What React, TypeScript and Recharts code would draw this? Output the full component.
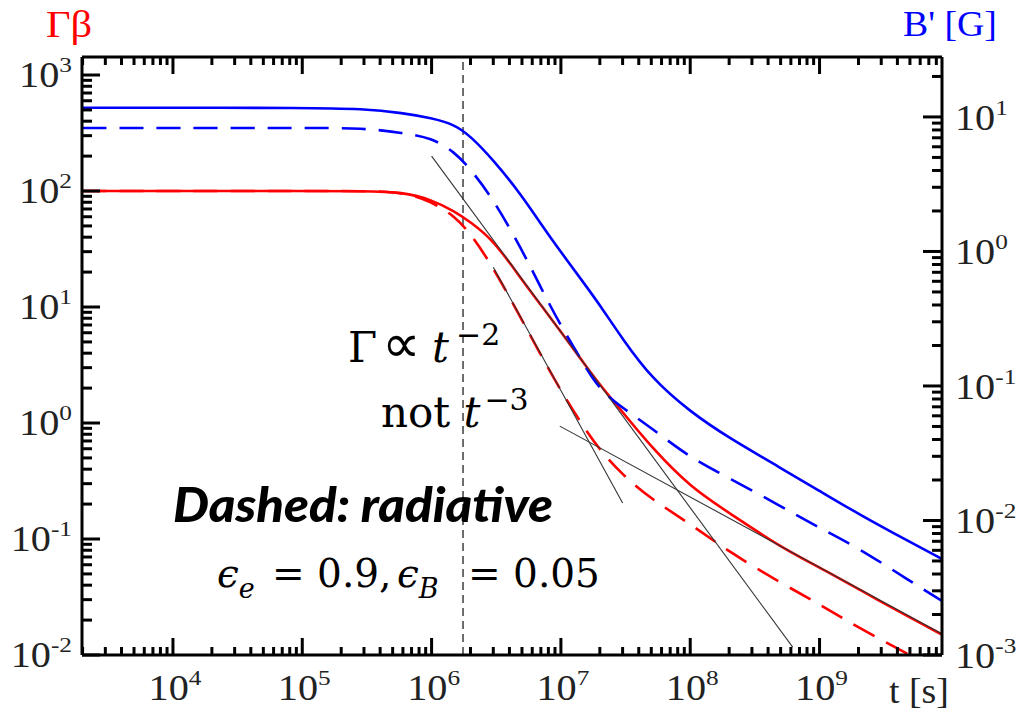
import React from 'react';
import { ComposedChart, Line, XAxis, YAxis, ReferenceLine } from 'recharts';

// time samples (s) shared by the four model curves
const timeGrid = [2e3, 1e4, 1e5, 3e5, 6e5, 1e6, 1.5e6, 2e6, 3e6, 5e6, 7e6, 1e7, 1.5e7, 2e7, 3e7, 5e7, 1e8, 2e8, 5e8, 1e9, 2e9, 5e9, 8.85e9];

// Gamma*beta (left axis)
const gammaBetaAdiabatic = [100, 100, 100, 100, 98, 84, 67, 54, 38, 17.1, 10.4, 6.1, 3.3, 2.13, 1.24, 0.62, 0.28, 0.168, 0.085, 0.057, 0.037, 0.021, 0.015];
const gammaBetaRadiative = [100, 100, 100, 100, 98, 81, 61, 43, 22, 7.7, 3.86, 1.89, 0.92, 0.585, 0.356, 0.221, 0.135, 0.0773, 0.0418, 0.0275, 0.0171, 0.01, 0.0071];

// B' in gauss (right axis)
const fieldAdiabatic = [11.7, 11.7, 11.7, 11.5, 10.7, 9.8, 8.8, 7.2, 4.79, 2.6, 1.6, 0.99, 0.585, 0.4, 0.223, 0.1146, 0.0641, 0.041, 0.0246, 0.0166, 0.01117, 0.00692, 0.00517];
const fieldRadiative = [8.28, 8.28, 8.28, 8.28, 7.6, 7.0, 5.5, 4.1, 2.45, 1.03, 0.536, 0.279, 0.146, 0.0933, 0.0686, 0.0488, 0.0292, 0.0207, 0.0128, 0.0088, 0.00625, 0.00355, 0.00252];

// thin power-law guide lines (left axis)
const guideATime = [1e6, 6.2e8];
const guideAValue = [200, 0.0117];
const guideBTime = [3e6, 3e7];
const guideBValue = [22, 0.204];
const guideCTime = [9.8e6, 8.85e9];
const guideCValue = [0.94, 0.0152];

const decelerationTime = 1.75e6;

const timeDomain = [1980, 8.85e9];
const gammaDomain = [0.01, 1430];
const fieldDomain = [0.001, 27.9];

const timeMajors = [1e4, 1e5, 1e6, 1e7, 1e8, 1e9];
const gammaMajors = [1e-2, 1e-1, 1, 10, 100, 1000];
const fieldMajors = [1e-3, 1e-2, 1e-1, 1, 10];

const W = 1017;
const H = 718;
const LEFT = 82;
const RIGHT = 942;
const TOP = 57;
const BOTTOM = 655;
const STRETCH = 1.15;
const SERIF = 'Liberation Serif';
const MATH = 'DejaVu Serif';

const withMinors = (domain: number[]) => {
  const out: number[] = [];
  const lo = Math.floor(Math.log10(domain[0]));
  const hi = Math.ceil(Math.log10(domain[1]));
  for (let k = lo; k <= hi; k++) {
    for (let m = 1; m <= 9; m++) {
      const v = m * Math.pow(10, k);
      if (v >= domain[0] * 0.999 && v <= domain[1] * 1.001) out.push(v);
    }
  }
  return out;
};

const exponentOf = (v: number) => Math.round(Math.log10(v));
const isMajor = (v: number, majors: number[]) => majors.some((m) => Math.abs(m - v) / m < 1e-6);

const series = (ts: number[], vs: number[]) => ts.map((t, i) => ({ t, v: vs[i] }));

const PowerLabel = ({ x, y, exp, anchor }: { x: number; y: number; exp: number; anchor: string }) => (
  <text
    transform={`translate(${x} ${y}) scale(${STRETCH} 1)`}
    textAnchor={anchor}
    fontFamily={SERIF}
    fontSize={35}
    fill="#222"
  >
    10<tspan dy={-15} fontSize={22}>{exp}</tspan>
  </text>
);

const BottomTick = (props: any) => {
  const { x, payload } = props;
  const major = isMajor(payload.value, timeMajors);
  return (
    <g>
      <line x1={x} x2={x} y1={BOTTOM} y2={BOTTOM - (major ? 17 : 8)} stroke="#000" strokeWidth={3} />
      {major && <PowerLabel x={x + 2} y={700} exp={exponentOf(payload.value)} anchor="middle" />}
    </g>
  );
};

const TopTick = (props: any) => {
  const { x, payload } = props;
  const major = isMajor(payload.value, timeMajors);
  return <line x1={x} x2={x} y1={TOP} y2={TOP + (major ? 17 : 8)} stroke="#000" strokeWidth={3} />;
};

const LeftTick = (props: any) => {
  const { y, payload } = props;
  const major = isMajor(payload.value, gammaMajors);
  return (
    <g>
      <line x1={LEFT} x2={LEFT + (major ? 18 : 10)} y1={y} y2={y} stroke="#000" strokeWidth={3} />
      {major && <PowerLabel x={72} y={y + 12} exp={exponentOf(payload.value)} anchor="end" />}
    </g>
  );
};

const RightTick = (props: any) => {
  const { y, payload } = props;
  const major = isMajor(payload.value, fieldMajors);
  return (
    <g>
      <line x1={RIGHT} x2={RIGHT - (major ? 19 : 10)} y1={y} y2={y} stroke="#000" strokeWidth={3} />
      {major && <PowerLabel x={955} y={y + 13} exp={exponentOf(payload.value)} anchor="start" />}
    </g>
  );
};

export default function App() {
  return (
    <div style={{ position: 'absolute', left: 0, top: 0, width: W, height: H, background: '#fff' }}>
      <ComposedChart
        width={W}
        height={H}
        margin={{ top: TOP - 20, right: W - RIGHT - 60, bottom: H - BOTTOM - 30, left: LEFT - 60 }}
      >
        <XAxis
          xAxisId="b"
          type="number"
          dataKey="t"
          scale="log"
          domain={timeDomain}
          allowDataOverflow
          ticks={withMinors(timeDomain)}
          interval={0}
          height={30}
          tickLine={false}
          axisLine={{ stroke: '#000', strokeWidth: 3 }}
          tick={(p: any) => <BottomTick {...p} />}
        />
        <XAxis
          xAxisId="top"
          orientation="top"
          type="number"
          dataKey="t"
          scale="log"
          domain={timeDomain}
          allowDataOverflow
          ticks={withMinors(timeDomain)}
          interval={0}
          height={20}
          tickLine={false}
          axisLine={{ stroke: '#000', strokeWidth: 3 }}
          tick={(p: any) => <TopTick {...p} />}
        />
        <YAxis
          yAxisId="l"
          type="number"
          scale="log"
          domain={gammaDomain}
          allowDataOverflow
          ticks={withMinors(gammaDomain)}
          interval={0}
          width={60}
          tickLine={false}
          axisLine={{ stroke: '#000', strokeWidth: 3 }}
          tick={(p: any) => <LeftTick {...p} />}
        />
        <YAxis
          yAxisId="r"
          orientation="right"
          type="number"
          scale="log"
          domain={fieldDomain}
          allowDataOverflow
          ticks={withMinors(fieldDomain)}
          interval={0}
          width={60}
          tickLine={false}
          axisLine={{ stroke: '#000', strokeWidth: 3 }}
          tick={(p: any) => <RightTick {...p} />}
        />
        <ReferenceLine xAxisId="b" yAxisId="l" x={decelerationTime} stroke="#222" strokeWidth={1.3} strokeDasharray="8 5" />

        <Line xAxisId="b" yAxisId="l" data={series(timeGrid, gammaBetaAdiabatic)} dataKey="v" type="basis" stroke="#ff0000" strokeWidth={2.6} dot={false} isAnimationActive={false} />
        <Line xAxisId="b" yAxisId="l" data={series(timeGrid, gammaBetaRadiative)} dataKey="v" type="basis" stroke="#ff0000" strokeWidth={2.6} strokeDasharray="24 13" dot={false} isAnimationActive={false} />
        <Line xAxisId="b" yAxisId="r" data={series(timeGrid, fieldAdiabatic)} dataKey="v" type="basis" stroke="#0000ff" strokeWidth={2.6} dot={false} isAnimationActive={false} />
        <Line xAxisId="b" yAxisId="r" data={series(timeGrid, fieldRadiative)} dataKey="v" type="basis" stroke="#0000ff" strokeWidth={2.6} strokeDasharray="24 13" dot={false} isAnimationActive={false} />

        <Line xAxisId="b" yAxisId="l" data={series(guideATime, guideAValue)} dataKey="v" type="linear" stroke="#333" strokeWidth={1.1} dot={false} isAnimationActive={false} />
        <Line xAxisId="b" yAxisId="l" data={series(guideBTime, guideBValue)} dataKey="v" type="linear" stroke="#333" strokeWidth={1.1} dot={false} isAnimationActive={false} />
        <Line xAxisId="b" yAxisId="l" data={series(guideCTime, guideCValue)} dataKey="v" type="linear" stroke="#333" strokeWidth={1.1} dot={false} isAnimationActive={false} />
      </ComposedChart>

      <svg width={W} height={H} style={{ position: 'absolute', left: 0, top: 0, pointerEvents: 'none' }}>
        <text transform={`translate(46 37) scale(${STRETCH} 1)`} fontFamily={SERIF} fontSize={37} fill="#ff0000">Γβ</text>
        <text transform="translate(903 36) scale(1.05 1)" fontFamily={SERIF} fontSize={36} fill="#0000ff">B' [G]</text>
        <text transform="translate(889 703) scale(1.05 1)" fontFamily={SERIF} fontSize={36} fill="#222">t [s]</text>

        <text y={362} fontFamily={MATH} fontSize={42} fill="#000">
          <tspan x={348}>Γ</tspan>
          <tspan x={382} fontFamily="DejaVu Sans" fontSize={54}>∝</tspan>
          <tspan x={432} fontStyle="italic">t</tspan>
          <tspan x={456} dy={-17} fontSize={30}>−2</tspan>
        </text>
        <text x={381} y={427} fontFamily={MATH} fontSize={42} fill="#000">
          not <tspan fontStyle="italic">t</tspan>
          <tspan dx={4} dy={-17} fontSize={30}>−3</tspan>
        </text>

        <text
          x={173}
          y={522}
          fontFamily="Lato, 'Open Sans', sans-serif"
          fontWeight={900}
          fontStyle="italic"
          fontSize={47}
          textLength={380}
          lengthAdjust="spacingAndGlyphs"
          fill="#000"
        >
          Dashed: radiative
        </text>

        <text y={587} fontFamily={MATH} fontSize={39} fill="#000">
          <tspan x={217} fontStyle="italic">ϵ</tspan>
          <tspan dy={11} fontSize={27} fontStyle="italic">e</tspan>
          <tspan x={272} dy={-11}>= 0.9,</tspan>
          <tspan x={397} fontStyle="italic">ϵ</tspan>
          <tspan dy={11} fontSize={27} fontStyle="italic">B</tspan>
          <tspan x={468} dy={-11}>= 0.05</tspan>
        </text>
      </svg>
    </div>
  );
}
